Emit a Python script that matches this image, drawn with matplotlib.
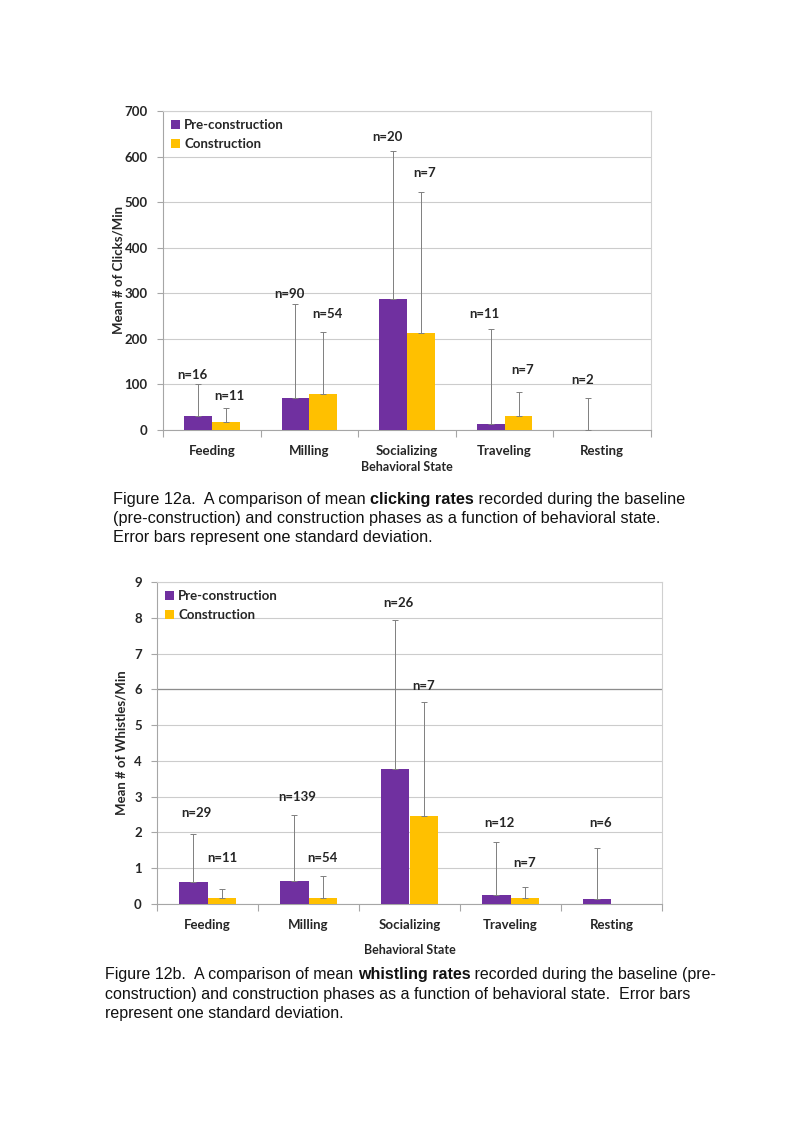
import matplotlib
matplotlib.use('Agg')
import matplotlib.pyplot as plt
import numpy as np

# behavioural states, shared by both panels
states = ['Feeding', 'Milling', 'Socializing', 'Traveling', 'Resting']

# fig 12a - clicks/min
clicks_pre = [31, 71, 287, 13, 0]
clicks_pre_sd = [70, 205, 326, 209, 70]
clicks_con = [18, 80, 212, 31, None]
clicks_con_sd = [30, 136, 310, 53, None]
clicks_pre_n = ['n=16', 'n=90', 'n=20', 'n=11', 'n=2']
clicks_con_n = ['n=11', 'n=54', 'n=7', 'n=7', None]
clicks_pre_n_y = [120, 298, 642, 254, 110]
clicks_con_n_y = [75, 254, 565, 132, None]

# fig 12b - whistles/min
whistles_pre = [0.62, 0.65, 3.78, 0.26, 0.13]
whistles_pre_sd = [1.34, 1.85, 4.15, 1.47, 1.43]
whistles_con = [0.16, 0.17, 2.47, 0.17, None]
whistles_con_sd = [0.26, 0.61, 3.17, 0.30, None]
whistles_pre_n = ['n=29', 'n=139', 'n=26', 'n=12', 'n=6']
whistles_con_n = ['n=11', 'n=54', 'n=7', 'n=7', None]
whistles_pre_n_y = [2.55, 2.98, 8.4, 2.27, 2.27]
whistles_con_n_y = [1.28, 1.28, 6.1, 1.14, None]

PURPLE = '#7030A0'
GOLD = '#FFC000'
GRID = '#cccccc'
AXIS = '#a6a6a6'
CHART_FONT = ['Lato', 'DejaVu Sans']
CAPTION_FONT = ['Liberation Sans', 'DejaVu Sans']
FS = 9.5


def clean(vals):
    return [np.nan if v is None else v for v in vals]


def bar_panel(ax, pre, pre_sd, con, con_sd, pre_n, con_n, pre_ny, con_ny,
              ymax, ystep, ylabel, ylabel_pad, xlabel_pad, n_dx):
    x = np.arange(len(states))
    w = 0.285
    pre = np.array(clean(pre), dtype=float)
    con = np.array(clean(con), dtype=float)
    pre_sd = np.array(clean(pre_sd), dtype=float)
    con_sd = np.array(clean(con_sd), dtype=float)

    ax.bar(x - w / 2, pre, w, color=PURPLE, label='Pre-construction', zorder=3)
    ax.bar(x + w / 2, con, w, color=GOLD, label='Construction', zorder=3)
    ax.errorbar(x - w / 2, pre, yerr=[np.zeros_like(pre_sd), pre_sd], fmt='none',
                ecolor='#7f7f7f', elinewidth=0.7, capsize=2, capthick=0.7, zorder=4)
    ax.errorbar(x + w / 2, con, yerr=[np.zeros_like(con_sd), con_sd], fmt='none',
                ecolor='#7f7f7f', elinewidth=0.7, capsize=2, capthick=0.7, zorder=4)

    for i in range(len(states)):
        if pre_n[i]:
            ax.text(x[i] - w / 2 + n_dx[0], pre_ny[i], pre_n[i], ha='center', va='center',
                    fontsize=FS, fontweight='bold', family=CHART_FONT, color='#262626')
        if con_n[i]:
            ax.text(x[i] + w / 2 + n_dx[1], con_ny[i], con_n[i], ha='center', va='center',
                    fontsize=FS, fontweight='bold', family=CHART_FONT, color='#262626')

    ax.set_xlim(-0.5, len(states) - 0.5)
    ax.set_ylim(0, ymax)
    ax.set_yticks(np.arange(0, ymax + ystep / 2, ystep))
    ax.set_xticks(x)
    ax.set_xticklabels(states)
    ax.set_xticks(np.arange(-0.5, len(states)), minor=True)
    ax.tick_params(axis='x', which='major', length=0, pad=11)
    ax.tick_params(axis='x', which='minor', length=5, color=AXIS, width=0.8)
    ax.tick_params(axis='y', length=4, color=AXIS, width=0.8, pad=7)
    for lab in ax.get_xticklabels() + ax.get_yticklabels():
        lab.set_family(CHART_FONT)
        lab.set_fontweight('bold')
        lab.set_fontsize(FS)
        lab.set_color('#262626')

    ax.yaxis.grid(True, color=GRID, linewidth=0.8, zorder=0)
    ax.set_axisbelow(True)
    for side in ['left', 'bottom']:
        ax.spines[side].set_color(AXIS)
        ax.spines[side].set_linewidth(0.8)
    for side in ['top', 'right']:
        ax.spines[side].set_color('#d0d0d0')
        ax.spines[side].set_linewidth(0.8)

    ax.set_ylabel(ylabel, family=CHART_FONT, fontweight='bold', fontsize=FS, color='#262626',
                  labelpad=ylabel_pad)
    ax.set_xlabel('Behavioral State', family=CHART_FONT, fontweight='bold', fontsize=9,
                  color='#262626', labelpad=xlabel_pad)

    leg = ax.legend(loc='upper left', frameon=False, handlelength=0.7, handleheight=0.7,
                    handletextpad=0.3, labelspacing=0.55, borderaxespad=0.2,
                    prop={'family': CHART_FONT, 'weight': 'bold', 'size': FS})
    for t in leg.get_texts():
        t.set_color('#262626')


fig = plt.figure(figsize=(7.93, 11.23), dpi=100)

ax1 = fig.add_axes([163 / 793, 1 - 430 / 1123, 488 / 793, 319 / 1123])
bar_panel(ax1, clicks_pre, clicks_pre_sd, clicks_con, clicks_con_sd,
          clicks_pre_n, clicks_con_n, clicks_pre_n_y, clicks_con_n_y,
          700, 100, 'Mean # of Clicks/Min', 0, 3, (-0.06, 0.04))

ax2 = fig.add_axes([157 / 793, 1 - 904 / 1123, 505 / 793, 322 / 1123])
bar_panel(ax2, whistles_pre, whistles_pre_sd, whistles_con, whistles_con_sd,
          whistles_pre_n, whistles_con_n, whistles_pre_n_y, whistles_con_n_y,
          9, 1, 'Mean # of Whistles/Min', 5, 9, (0.03, 0.0))
# the 6 gridline is darker in the original print
ax2.axhline(6, color='#8c8c8c', linewidth=0.9, zorder=1)

cap_a = [
    ('Figure 12a.  A comparison of mean ', 'clicking rates', ' recorded during the baseline'),
    ('(pre-construction) and construction phases as a function of behavioral state.', '', ''),
    ('Error bars represent one standard deviation.', '', ''),
]
cap_b = [
    ('Figure 12b.  A comparison of mean ', 'whistling rates', ' recorded during the baseline (pre-'),
    ('construction) and construction phases as a function of behavioral state.  Error bars', '', ''),
    ('represent one standard deviation.', '', ''),
]


def caption(lines, x0, y0, dy, size):
    r = fig.canvas.get_renderer()
    for k, (a, b, c) in enumerate(lines):
        y = 1 - (y0 + k * dy) / 1123
        x = x0 / 793
        for part, wt in [(a, 'normal'), (b, 'bold'), (c, 'normal')]:
            if not part:
                continue
            t = fig.text(x, y, part, fontsize=size, fontweight=wt, family=CAPTION_FONT,
                         va='center', ha='left', color='#111111')
            bb = t.get_window_extent(renderer=r)
            x += bb.width / 793


caption(cap_a, 113, 499, 19.3, 11.7)
caption(cap_b, 105, 975, 19.3, 11.5)

fig.savefig('out.png', dpi=100)
